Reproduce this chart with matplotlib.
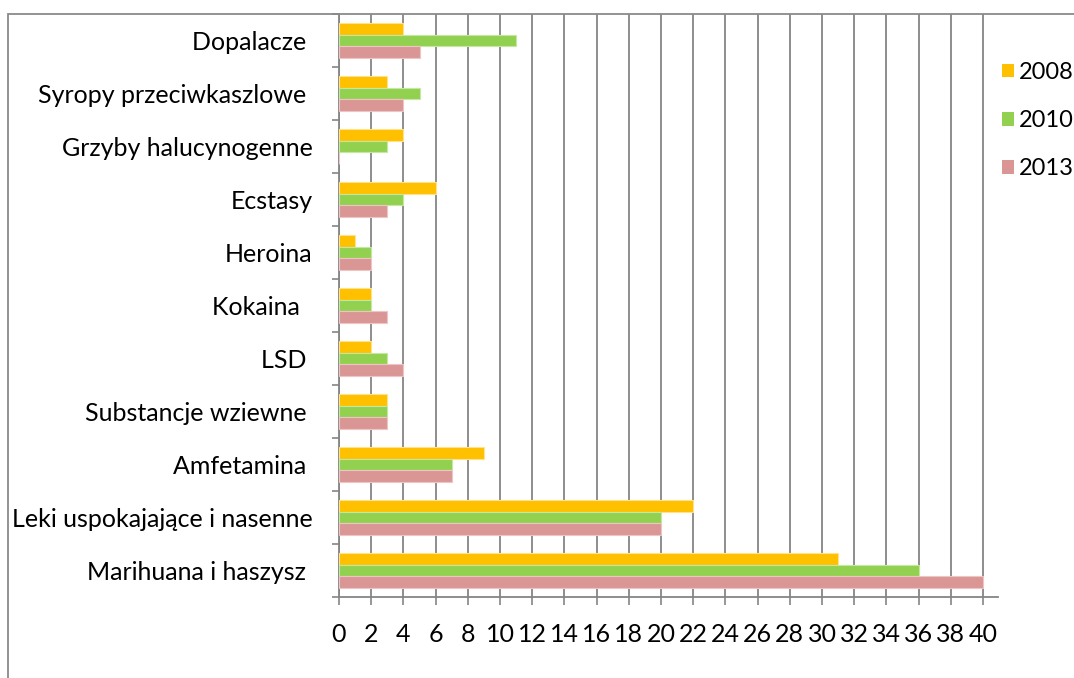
import numpy as np
import matplotlib.pyplot as plt
from matplotlib.patches import Rectangle, Patch

plt.rcParams['font.family'] = ['Lato', 'DejaVu Sans']

categories = ["Dopalacze ", "Syropy przeciwkaszlowe ", "Grzyby halucynogenne", "Ecstasy",
              "Heroina", "Kokaina  ", "LSD ", "Substancje wziewne ", "Amfetamina ",
              "Leki uspokajające i nasenne", "Marihuana i haszysz "]
years = ["2008", "2010", "2013"]
v2008 = [4, 3, 4, 6, 1, 2, 2, 3, 9, 22, 31]
v2010 = [11, 5, 3, 4, 2, 2, 3, 3, 7, 20, 36]
v2013 = [5, 4, 0, 3, 2, 3, 4, 3, 7, 20, 40]
xticks = np.arange(0, 41, 2)

colors = ['#FFC000', '#92D050', '#D99694']
edges = ['#FFE28A', '#C4E8A0', '#EDC5C4']
grid_c = '#858585'

fig = plt.figure(figsize=(10.74, 6.78), dpi=100)
ax = fig.add_axes([339/1074, 1 - 597/678, 659/1074, 583/678])

# outer frame of the chart area (cut off on right and bottom)
fig.patches.append(Rectangle((8/1074, -0.1), 1.2, (678 - 14)/678 + 0.1,
                             transform=fig.transFigure, fill=False,
                             edgecolor='#8a8a8a', linewidth=1.3))

y = np.arange(len(categories))
h = 0.222
for k, vals in enumerate([v2008, v2010, v2013]):
    ax.barh(y + (k - 1) * h, vals, height=h, color=colors[k], edgecolor=edges[k],
            linewidth=0.8, label=years[k], zorder=3)

ax.set_ylim(len(categories) - 0.5, -0.5)
ax.set_xlim(0, 40.93)
ax.set_xticks(xticks)
ax.set_yticks(y)
ax.set_yticklabels(categories, fontsize=18)
ax.set_yticks(np.arange(-0.5, len(categories), 1), minor=True)
ax.tick_params(axis='y', which='major', length=0, pad=19)
ax.tick_params(axis='y', which='minor', length=5, width=1.2, color=grid_c)
ax.tick_params(axis='x', length=6, width=1.2, color=grid_c, pad=13, labelsize=18)
ax.grid(axis='x', color=grid_c, linewidth=1.3, zorder=0)
ax.set_axisbelow(True)

for s in ['top', 'right']:
    ax.spines[s].set_visible(False)
for s in ['left', 'bottom']:
    ax.spines[s].set_color(grid_c)
    ax.spines[s].set_linewidth(1.3)

handles = [Patch(facecolor=c, edgecolor='none') for c in colors]
fig.legend(handles, years, loc='upper left', bbox_to_anchor=(1002/1074, 1 - 62/678),
           frameon=False, fontsize=17, handlelength=0.5, handleheight=0.5,
           handletextpad=0.2, labelspacing=1.15, borderpad=0, borderaxespad=0)

fig.savefig("out.png", dpi=100)
